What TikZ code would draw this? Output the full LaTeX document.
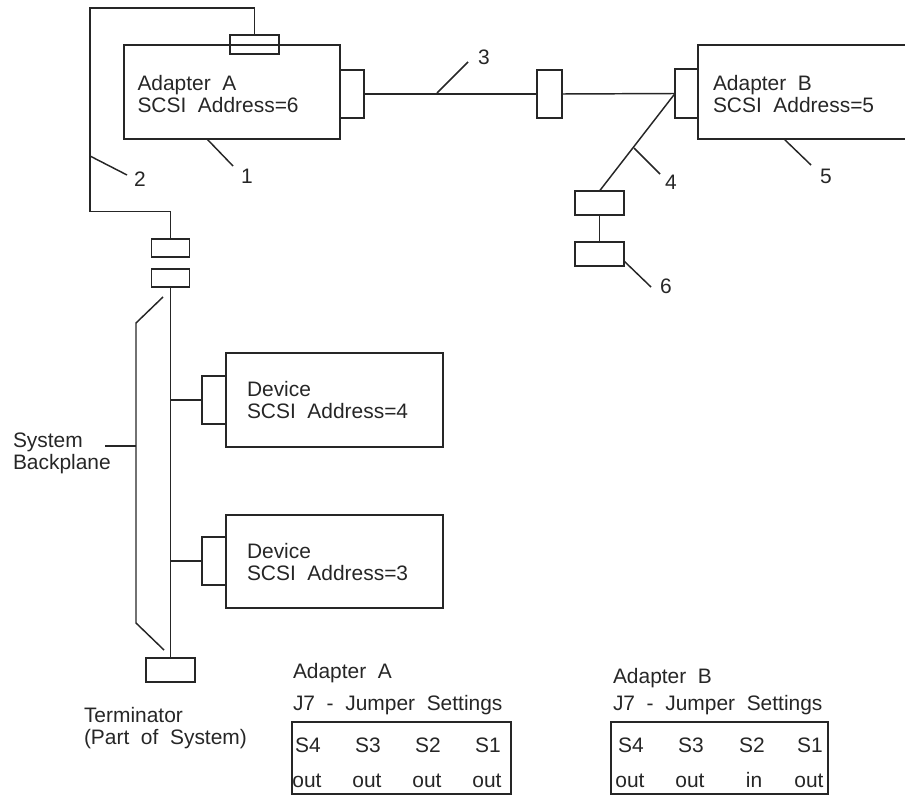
\documentclass[tikz,border=0pt]{standalone}
\usepackage{fontspec}
\setmainfont{Liberation Sans}
\usetikzlibrary{positioning,calc}
\tikzset{
  wire/.style={line width=1.1pt, black!85},
  pbox/.style 2 args={draw=black!85, line width=1.1pt, inner sep=0pt, outer sep=0pt,
    minimum width=#1*0.75pt, minimum height=#2*0.75pt},
  txt/.style={inner sep=0pt, outer sep=0pt, anchor=west, align=left, text=black!85,
    font=\fontsize{15.7}{16.5}\selectfont},
  tab/.style={inner sep=0pt, outer sep=0pt, text=black!85, text height=11.2pt, text depth=0pt,
    font=\fontsize{15.7}{16.5}\selectfont},
}

\begin{document}
\begin{tikzpicture}[x=0.75pt,y=-0.75pt]
  \useasboundingbox (0,0) rectangle (905,795);
  % adapters and their plugs
  \node[pbox={216}{94}] (adapterA) at (232,92) {};
  \node[pbox={49}{19}] (connTop) at (254.5,44.5) {};
  \node[pbox={24}{48}] (connA) at (352,94) {};
  \node[pbox={25}{48}] (connMid) at (549.5,94) {};
  \node[pbox={23}{49}] (connB) at (686.5,93.5) {};
  \node[pbox={207}{94}, draw=none] (adapterB) at (801.5,92) {};
  \draw[wire] (adapterB.north east) -- (adapterB.north west) -- (adapterB.south west) -- (adapterB.south east);
  \node[pbox={49}{24}] (branchUp) at (599.5,203) {};
  \node[pbox={49}{24}] (branchDown) at (599.5,254) {};
  \node[pbox={38}{18}] (plugUp) at (170.5,248) {};
  \node[pbox={38}{18}] (plugDown) at (170.5,278) {};
  \node[pbox={49}{24}] (term) at (170.5,670) {};
  % devices
  \node[pbox={217}{94}] (devFour) at (334.5,400) {};
  \node[pbox={24}{48}] (connFour) at (214,400) {};
  \node[pbox={217}{93}] (devThree) at (334.5,561.5) {};
  \node[pbox={24}{48}] (connThree) at (214,561) {};
  % cables
  \coordinate (cableTop) at (90,8);
  \coordinate (cableBot) at (90,211.5);
  \draw[wire] (connTop.north) |- (cableTop) -- (cableBot) -| (plugUp.north);
  \draw[wire] (connA.east) -- (connMid.west);
  \draw[wire] (connMid.east) -- (connB.west);
  \draw[wire] (connB.west) -- (branchUp.north);
  \draw[wire] (branchUp.south) -- (branchDown.north);
  \draw[wire] (plugDown.south) -- (term.north);
  \draw[wire] (connFour.west) -- (connFour.west -| plugDown.south);
  \draw[wire] (connThree.west) -- (connThree.west -| plugDown.south);
  % backplane bracket
  \coordinate (bpTop) at (163,297);
  \coordinate (bpUp) at (136,323);
  \coordinate (bpLow) at (136,623);
  \coordinate (bpBot) at (164,650);
  \coordinate (bpMid) at (136,446);
  \coordinate (bpEnd) at (105,446);
  \draw[wire] (bpTop) -- (bpUp) -- (bpLow) -- (bpBot);
  \draw[wire] (bpEnd) -- (bpMid);
  % box texts
  \node[txt] (textA) at (137.5,94) {Adapter\ \ A\\SCSI\ \ Address=6};
  \node[txt] (textB) at (713,94) {Adapter\ \ B\\SCSI\ \ Address=5};
  \node[txt] (textFour) at (247,400) {Device\\SCSI\ \ Address=4};
  \node[txt] (textThree) at (247,562.5) {Device\\SCSI\ \ Address=3};
  \node[txt] (textBack) at (13,453.5) {System\\Backplane};
  \node[txt] (textTerm) at (84,728) {Terminator\\(Part\ \ of\ \ System)};
  % callouts
  \foreach \n/\xa/\ya/\xb/\yb in {
    one/207/139/233/166,
    two/90/156/127/175,
    three/437/93/468/62,
    four/634/148/660/174,
    five/784/139/811/165,
    six/624/261/651/287} {
    \coordinate (from\n) at (\xa,\ya);
    \coordinate (to\n) at (\xb,\yb);
    \draw[wire] (from\n) -- (to\n);
  }
  \node[tab] (callOne) at (247,176) {1};
  \node[tab] (callTwo) at (140,179) {2};
  \node[tab] (callThree) at (484,57) {3};
  \node[tab] (callFour) at (671,182) {4};
  \node[tab] (callFive) at (826,176) {5};
  \node[tab] (callSix) at (666,286) {6};
  % jumper tables
  \node[txt] (titleA) at (293,673) {Adapter\ \ A};
  \node[txt] (jumperA) at (293,705) {J7\ \ -\ \ Jumper\ \ Settings};
  \node[txt] (titleB) at (613,678) {Adapter\ \ B};
  \node[txt] (jumperB) at (613,705) {J7\ \ -\ \ Jumper\ \ Settings};
  \node[pbox={219}{72}] (tableA) at (401.5,758) {};
  \node[pbox={217}{72}] (tableB) at (719.5,758) {};
  \foreach \s/\xa/\xb/\xc/\xd/\v in {S4/308/307/631/630/out,S3/368/367/691/690/out,S2/428/427/752/754/in,S1/488/487/810/809/out} {
    \node[tab] (headA\s) at (\xa,745) {\s};
    \node[tab] (cellA\s) at (\xb,780) {out};
    \node[tab] (headB\s) at (\xc,745) {\s};
    \node[tab] (cellB\s) at (\xd,780) {\v};
  }
\end{tikzpicture}
\end{document}
